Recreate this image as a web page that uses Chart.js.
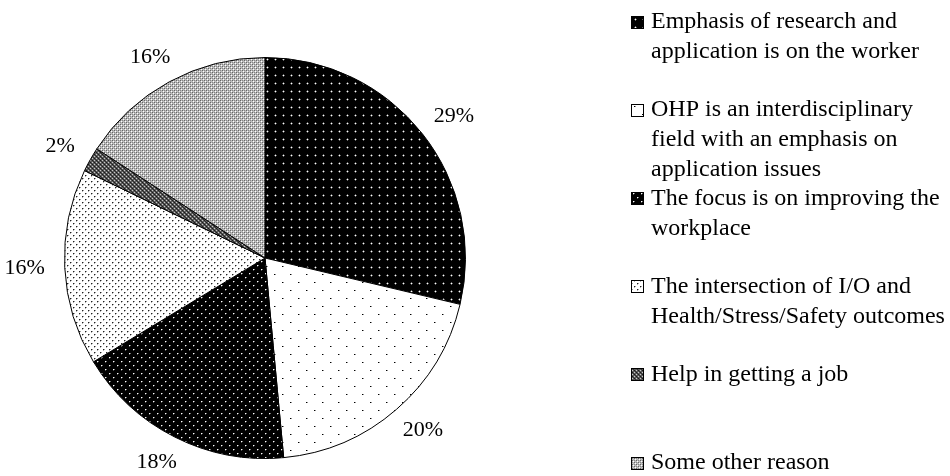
<!DOCTYPE html>
<html>
<head>
<meta charset="utf-8">
<script src="https://cdn.jsdelivr.net/npm/chart.js@4.4.1/dist/chart.umd.min.js"></script>
<style>
  html, body { margin: 0; padding: 0; background: #ffffff; }
  #wrap { width: 950px; height: 476px; position: relative; }
</style>
</head>
<body>
<div id="wrap"><canvas id="pie" width="950" height="476"></canvas></div>
<script>
// Reasons given, one per slice
const categories = [
  'Emphasis of research and application is on the worker',
  'OHP is an interdisciplinary field with an emphasis on application issues',
  'The focus is on improving the workplace',
  'The intersection of I/O and Health/Stress/Safety outcomes',
  'Help in getting a job',
  'Some other reason'
];

// Legend text, wrapped as it is printed
const legendLines = [
  ['Emphasis of research and', 'application is on the worker'],
  ['OHP is an interdisciplinary', 'field with an emphasis on', 'application issues'],
  ['The focus is on improving the', 'workplace'],
  ['The intersection of I/O and', 'Health/Stress/Safety outcomes'],
  ['Help in getting a job'],
  ['Some other reason']
];

// Share of responses, percent
const shares = [29, 20, 18, 16, 2, 16];

const canvas = document.getElementById('pie');
const ctx = canvas.getContext('2d');
const LABEL_FONT = '22px "Liberation Serif", "Times New Roman", serif';
const LEGEND_FONT = '24px "Liberation Serif", "Times New Roman", serif';

// Build a repeating fill from a small tile: background plus a list of pixel runs
function tile(w, h, bg, cells) {
  const t = document.createElement('canvas');
  t.width = w; t.height = h;
  const g = t.getContext('2d');
  g.fillStyle = bg;
  g.fillRect(0, 0, w, h);
  cells.forEach(([x, y, cw, ch, col]) => { g.fillStyle = col; g.fillRect(x, y, cw, ch); });
  return ctx.createPattern(t, 'repeat');
}

const fills = [
  // black with sparse white dots
  tile(8, 8, '#000000', [[3, 3, 1, 1, '#ffffff'], [2, 3, 1, 1, '#606060'], [4, 3, 1, 1, '#606060'], [3, 2, 1, 1, '#606060'], [3, 4, 1, 1, '#606060']]),
  // white with sparse black dots, staggered rows
  tile(16, 16, '#ffffff', [[2, 2, 1, 1, '#000000'], [10, 10, 1, 1, '#000000'], [3, 2, 1, 1, '#909090'], [11, 10, 1, 1, '#909090']]),
  // black with denser white dots
  tile(8, 8, '#000000', [[1, 1, 1, 1, '#ffffff'], [5, 5, 1, 1, '#ffffff'], [2, 1, 1, 1, '#707070'], [6, 5, 1, 1, '#707070'], [1, 2, 1, 1, '#505050'], [5, 6, 1, 1, '#505050']]),
  // white with denser grey dots
  tile(6, 6, '#ffffff', [[1, 1, 1, 1, '#202020'], [4, 4, 1, 1, '#202020'], [2, 1, 1, 1, '#a0a0a0'], [5, 4, 1, 1, '#a0a0a0'], [1, 2, 1, 1, '#b0b0b0'], [4, 5, 1, 1, '#b0b0b0']]),
  // dark grey lattice
  tile(4, 4, '#5a5a5a', [[0, 0, 1, 1, '#1a1a1a'], [2, 2, 1, 1, '#1a1a1a'], [2, 0, 1, 1, '#c8c8c8'], [0, 2, 1, 1, '#c8c8c8'], [1, 1, 1, 1, '#303030'], [3, 3, 1, 1, '#303030']]),
  // light grey lattice
  tile(4, 4, '#bcbcbc', [[0, 0, 1, 1, '#666666'], [2, 2, 1, 1, '#666666'], [1, 1, 1, 1, '#ffffff'], [3, 3, 1, 1, '#ffffff'], [2, 0, 1, 1, '#888888'], [0, 2, 1, 1, '#888888']])
];

// Percent labels set just outside each slice
const outsideLabels = {
  id: 'outsideLabels',
  afterDatasetsDraw(chart, args, opts) {
    const c = chart.ctx;
    const meta = chart.getDatasetMeta(0);
    const values = chart.data.datasets[0].data;
    c.save();
    c.font = LABEL_FONT;
    c.fillStyle = '#000000';
    c.textAlign = 'center';
    c.textBaseline = 'middle';
    meta.data.forEach((arc, i) => {
      const p = arc.getProps(['x', 'y', 'startAngle', 'endAngle', 'outerRadius'], true);
      const a = (p.startAngle + p.endAngle) / 2;
      const ux = Math.cos(a), uy = Math.sin(a);
      const text = values[i] + '%';
      const w = c.measureText(text).width;
      const h = opts.textHeight;
      const r = p.outerRadius + opts.gap;
      const cx = p.x + ux * r + ux * w / 2;
      const cy = p.y + uy * r + uy * h / 2;
      c.fillText(text, cx, cy);
    });
    c.restore();
  }
};

// Legend on the right: swatch plus wrapped text, one slot per entry
const sideLegend = {
  id: 'sideLegend',
  afterDraw(chart, args, opts) {
    const c = chart.ctx;
    const fillsUsed = chart.data.datasets[0].backgroundColor;
    c.save();
    c.font = LEGEND_FONT;
    c.textAlign = 'left';
    c.textBaseline = 'middle';
    legendLines.forEach((lines, i) => {
      const y0 = opts.top + i * opts.slot;
      const by = Math.round(y0 - opts.box / 2);
      c.fillStyle = fillsUsed[i];
      c.fillRect(opts.boxX, by, opts.box, opts.box);
      c.strokeStyle = '#000000';
      c.lineWidth = 1;
      c.strokeRect(opts.boxX + 0.5, by + 0.5, opts.box - 1, opts.box - 1);
      c.fillStyle = '#000000';
      lines.forEach((ln, k) => c.fillText(ln, opts.textX, y0 + k * opts.lineHeight));
    });
    c.restore();
  }
};

new Chart(ctx, {
  type: 'pie',
  data: {
    labels: categories,
    datasets: [{
      data: shares,
      backgroundColor: fills,
      borderColor: '#000000',
      borderWidth: 1
    }]
  },
  options: {
    responsive: false,
    animation: false,
    devicePixelRatio: 1,
    layout: { padding: { left: 64, right: 484, top: 57, bottom: 17 } },
    plugins: {
      legend: { display: false },
      tooltip: { enabled: false },
      outsideLabels: { gap: 20, textHeight: 16 },
      sideLegend: { top: 22, slot: 88.2, lineHeight: 30, boxX: 631, box: 13, textX: 651 }
    }
  },
  plugins: [outsideLabels, sideLegend]
});
</script>
</body>
</html>
